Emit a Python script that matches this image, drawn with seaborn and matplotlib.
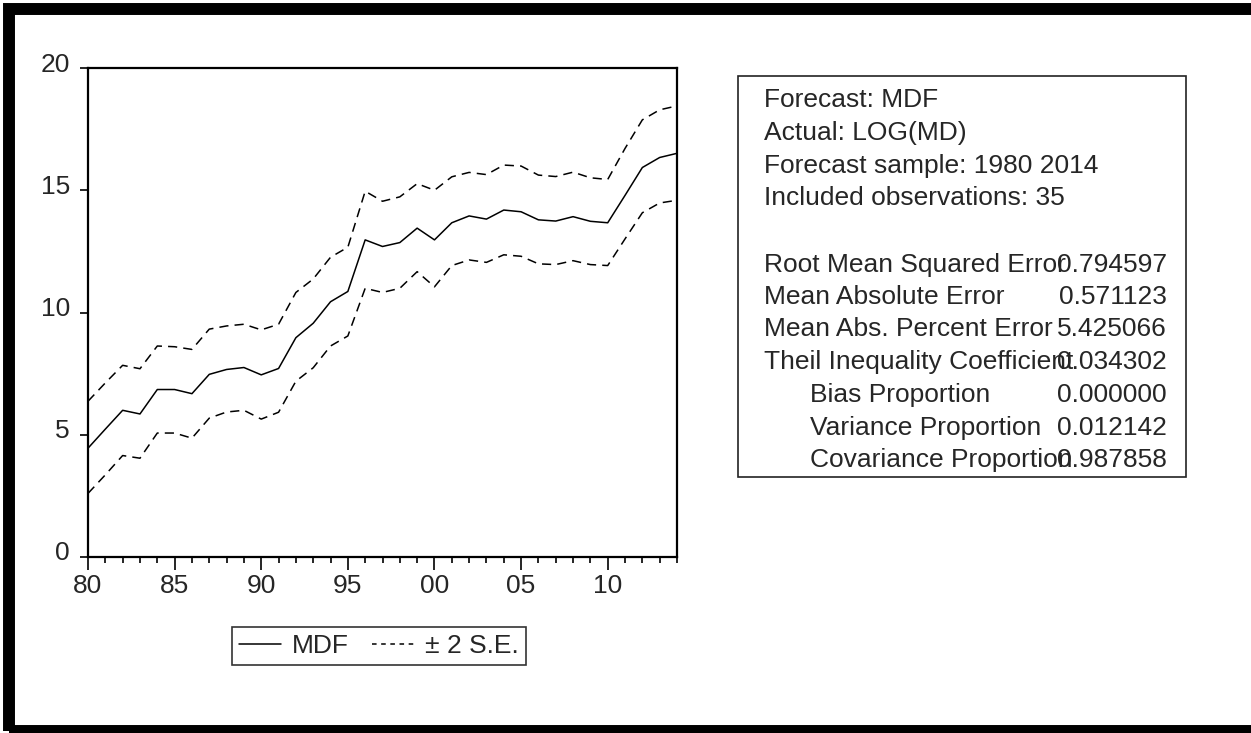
import numpy as np
import pandas as pd
import seaborn as sns
import matplotlib.pyplot as plt
import matplotlib.transforms as mtransforms
from matplotlib.lines import Line2D
from matplotlib.patches import Rectangle

# values
years = list(range(1980, 2015))
mdf = [4.45, 5.23, 6.00, 5.85, 6.85, 6.85, 6.68, 7.47, 7.67, 7.75,
       7.45, 7.71, 8.97, 9.56, 10.44, 10.86, 12.97, 12.70, 12.86, 13.45,
       12.97, 13.67, 13.95, 13.82, 14.19, 14.12, 13.79, 13.74, 13.92, 13.73,
       13.67, 14.79, 15.93, 16.34, 16.51]
upper = [6.37, 7.12, 7.84, 7.70, 8.63, 8.60, 8.49, 9.32, 9.45, 9.52,
         9.29, 9.52, 10.82, 11.37, 12.26, 12.67, 14.96, 14.55, 14.73, 15.27,
         15.00, 15.55, 15.73, 15.64, 16.03, 15.99, 15.62, 15.56, 15.74, 15.51,
         15.44, 16.71, 17.88, 18.29, 18.45]
lower = [2.60, 3.36, 4.15, 4.04, 5.07, 5.07, 4.86, 5.68, 5.93, 6.00,
         5.64, 5.92, 7.19, 7.74, 8.63, 9.04, 10.99, 10.82, 10.99, 11.67,
         11.05, 11.92, 12.15, 12.05, 12.36, 12.30, 11.99, 11.96, 12.12, 11.96,
         11.92, 13.01, 14.08, 14.48, 14.59]

stat_labels = ["Root Mean Squared Error", "Mean Absolute Error",
               "Mean Abs. Percent Error", "Theil Inequality Coefficient",
               "Bias Proportion", "Variance Proportion", "Covariance Proportion"]
stat_values = ["0.794597", "0.571123", "5.425066", "0.034302",
               "0.000000", "0.012142", "0.987858"]
header_lines = ["Forecast: MDF", "Actual: LOG(MD)",
                "Forecast sample: 1980 2014", "Included observations: 35"]

x_ticks = [1980, 1985, 1990, 1995, 2000, 2005, 2010]
x_labels = ["80", "85", "90", "95", "00", "05", "10"]

df = pd.DataFrame({"year": years, "MDF": mdf, "upper": upper, "lower": lower})

sns.set_style("white")
plt.rcParams['font.family'] = ['Liberation Sans', 'DejaVu Sans']

W, H = 1251, 733
fig = plt.figure(figsize=(W / 100, H / 100), dpi=100)
ax = fig.add_axes([88 / W, 1 - 557 / H, (677 - 88) / W, (557 - 68) / H])

dash = (0, (6, 4))
sns.lineplot(data=df, x="year", y="MDF", ax=ax, color="black", lw=1.1)
sns.lineplot(data=df, x="year", y="upper", ax=ax, color="black", lw=1.1, linestyle=dash)
sns.lineplot(data=df, x="year", y="lower", ax=ax, color="black", lw=1.1, linestyle=dash)

ax.set_xlim(1980, 2014)
ax.set_ylim(0, 20)
ax.set_xlabel("")
ax.set_ylabel("")
for s in ax.spines.values():
    s.set_color("black")
    s.set_linewidth(1.6)

ax.set_xticks(x_ticks)
ax.set_xticklabels(x_labels)
ax.set_xticks(years, minor=True)
ax.set_yticks([0, 5, 10, 15, 20])
ax.tick_params(axis="x", which="major", direction="out", length=9, width=1.2,
               labelsize=19, pad=3, color="black", bottom=True)
ax.tick_params(axis="x", which="minor", direction="out", length=4.5, width=1.2,
               color="black", bottom=True)
ax.tick_params(axis="y", which="major", direction="out", length=6, width=1.2,
               labelsize=19, pad=7, color="black", left=True)
ax.tick_params(axis="y", which="minor", left=False)

# EViews puts the y labels a little above the tick
off = mtransforms.ScaledTranslation(0, 6 / 100, fig.dpi_scale_trans)
for lab in ax.get_yticklabels():
    lab.set_transform(lab.get_transform() + off)

# legend under the plot
handles = [Line2D([], [], color="black", lw=1.1),
           Line2D([], [], color="black", lw=1.1, linestyle=(0, (3, 3)))]
leg = fig.legend(handles, ["MDF", "± 2 S.E."], ncol=2, loc="center",
                 bbox_to_anchor=(379 / W, 1 - 646 / H), fontsize=19,
                 frameon=True, fancybox=False, edgecolor="black",
                 handlelength=1.6, handletextpad=0.4, columnspacing=0.9,
                 borderpad=0.25, borderaxespad=0)
leg.get_frame().set_linewidth(1.2)

# statistics box on the right
fig.patches.append(Rectangle((738 / W, 1 - 477 / H), (1186 - 738) / W, (477 - 76) / H,
                             transform=fig.transFigure, fill=False,
                             edgecolor="#222222", lw=1.2))
fs = 19
line_y = [100, 133, 166, 198]
for t, y in zip(header_lines, line_y):
    fig.text(764 / W, 1 - y / H, t, fontsize=fs, va="center", ha="left")
stat_y = [265, 297, 329, 362, 395, 428, 460]
for i, (t, v, y) in enumerate(zip(stat_labels, stat_values, stat_y)):
    x0 = 764 if i < 4 else 810
    fig.text(x0 / W, 1 - y / H, t, fontsize=fs, va="center", ha="left")
    fig.text(1167 / W, 1 - y / H, v, fontsize=fs, va="center", ha="right")

# thick black frame around the whole graph
fig.patches.append(Rectangle((9 / W, 1 - 731 / H), (1253 - 9) / W, (731 - 9) / H,
                             transform=fig.transFigure, fill=False,
                             edgecolor="black", lw=8.6, clip_on=False))

fig.savefig("out.png", dpi=100, facecolor="white")
